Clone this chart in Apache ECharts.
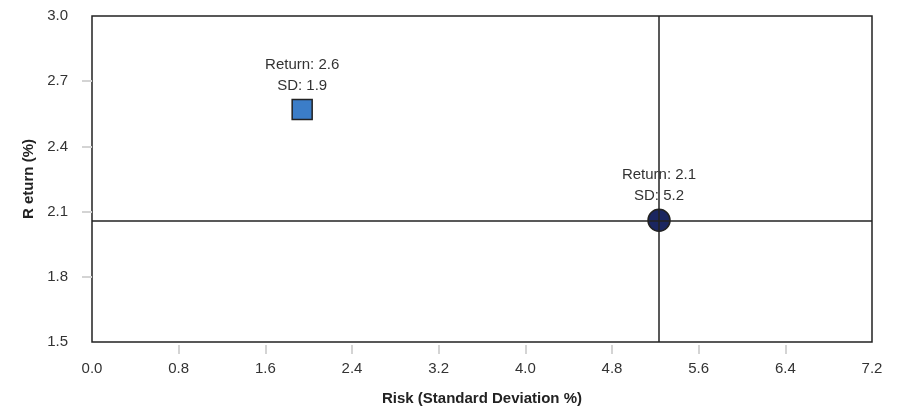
<!DOCTYPE html>
<html>
<head>
<meta charset="utf-8">
<script src="https://cdn.jsdelivr.net/npm/echarts@6/dist/echarts.min.js"></script>
<style>
  html, body { margin: 0; padding: 0; background: #fff; }
  #chart { width: 902px; height: 411px; }
</style>
</head>
<body>
<div id="chart"></div>
<script>
var chart = echarts.init(document.getElementById('chart'));

// risk (SD %), return (%)
var squarePoint = [1.94, 2.57];
var circlePoint = [5.234, 2.06];
var xTicks = [0.8, 1.6, 2.4, 3.2, 4.0, 4.8, 5.6, 6.4];
var yTicks = [1.8, 2.1, 2.4, 2.7];

var font = 'Liberation Sans, Arial, sans-serif';

function pointLabel(p) {
    return 'Return: ' + p.value[1].toFixed(1) + '\nSD: ' + p.value[0].toFixed(1);
}

var labelStyle = {
    show: true,
    position: 'top',
    distance: 2,
    formatter: pointLabel,
    fontFamily: font,
    fontSize: 15,
    lineHeight: 21,
    color: '#333',
    align: 'center'
};

option = {
    animation: false,
    grid: {
        left: 92,
        right: 30,
        top: 16,
        bottom: 67,
        show: true,
        borderColor: '#222',
        borderWidth: 1.5
    },
    xAxis: {
        type: 'value',
        min: 0,
        max: 7.2,
        interval: 0.8,
        offset: 3,
        name: 'Risk (Standard Deviation %)',
        nameLocation: 'middle',
        nameGap: 46,
        nameTextStyle: { fontFamily: font, fontSize: 15, fontWeight: 'bold', color: '#222' },
        axisLine: { show: false },
        axisTick: { show: true, length: 9, customValues: xTicks, lineStyle: { color: '#d4d4d4', width: 2 } },
        axisLabel: {
            margin: 16,
            fontFamily: font,
            fontSize: 15,
            color: '#333',
            formatter: function (v) { return v.toFixed(1); }
        },
        splitLine: { show: false }
    },
    yAxis: {
        type: 'value',
        min: 1.5,
        max: 3.0,
        interval: 0.3,
        offset: 2,
        name: 'R eturn (%)',
        nameLocation: 'middle',
        nameRotate: 90,
        nameGap: 50,
        nameTextStyle: { fontFamily: font, fontSize: 15, fontWeight: 'bold', color: '#222' },
        axisLine: { show: false },
        axisTick: { show: true, length: 10, customValues: yTicks, lineStyle: { color: '#d4d4d4', width: 2 } },
        axisLabel: {
            margin: 22,
            fontFamily: font,
            fontSize: 15,
            color: '#333',
            formatter: function (v) { return v.toFixed(1); }
        },
        splitLine: { show: false }
    },
    series: [
        {
            type: 'scatter',
            symbol: 'rect',
            symbolSize: 20,
            itemStyle: { color: '#3b7dc8', borderColor: '#222', borderWidth: 1.5, opacity: 1 },
            label: labelStyle,
            data: [squarePoint]
        },
        {
            type: 'scatter',
            symbol: 'circle',
            symbolSize: 22,
            itemStyle: { color: '#1b2660', borderColor: '#222', borderWidth: 1.5, opacity: 1 },
            label: labelStyle,
            data: [circlePoint],
            markLine: {
                silent: true,
                symbol: 'none',
                label: { show: false },
                lineStyle: { color: '#222', width: 1.5, type: 'solid' },
                data: [
                    { xAxis: circlePoint[0] },
                    { yAxis: circlePoint[1] }
                ]
            }
        }
    ]
};

chart.setOption(option);
</script>
</body>
</html>
